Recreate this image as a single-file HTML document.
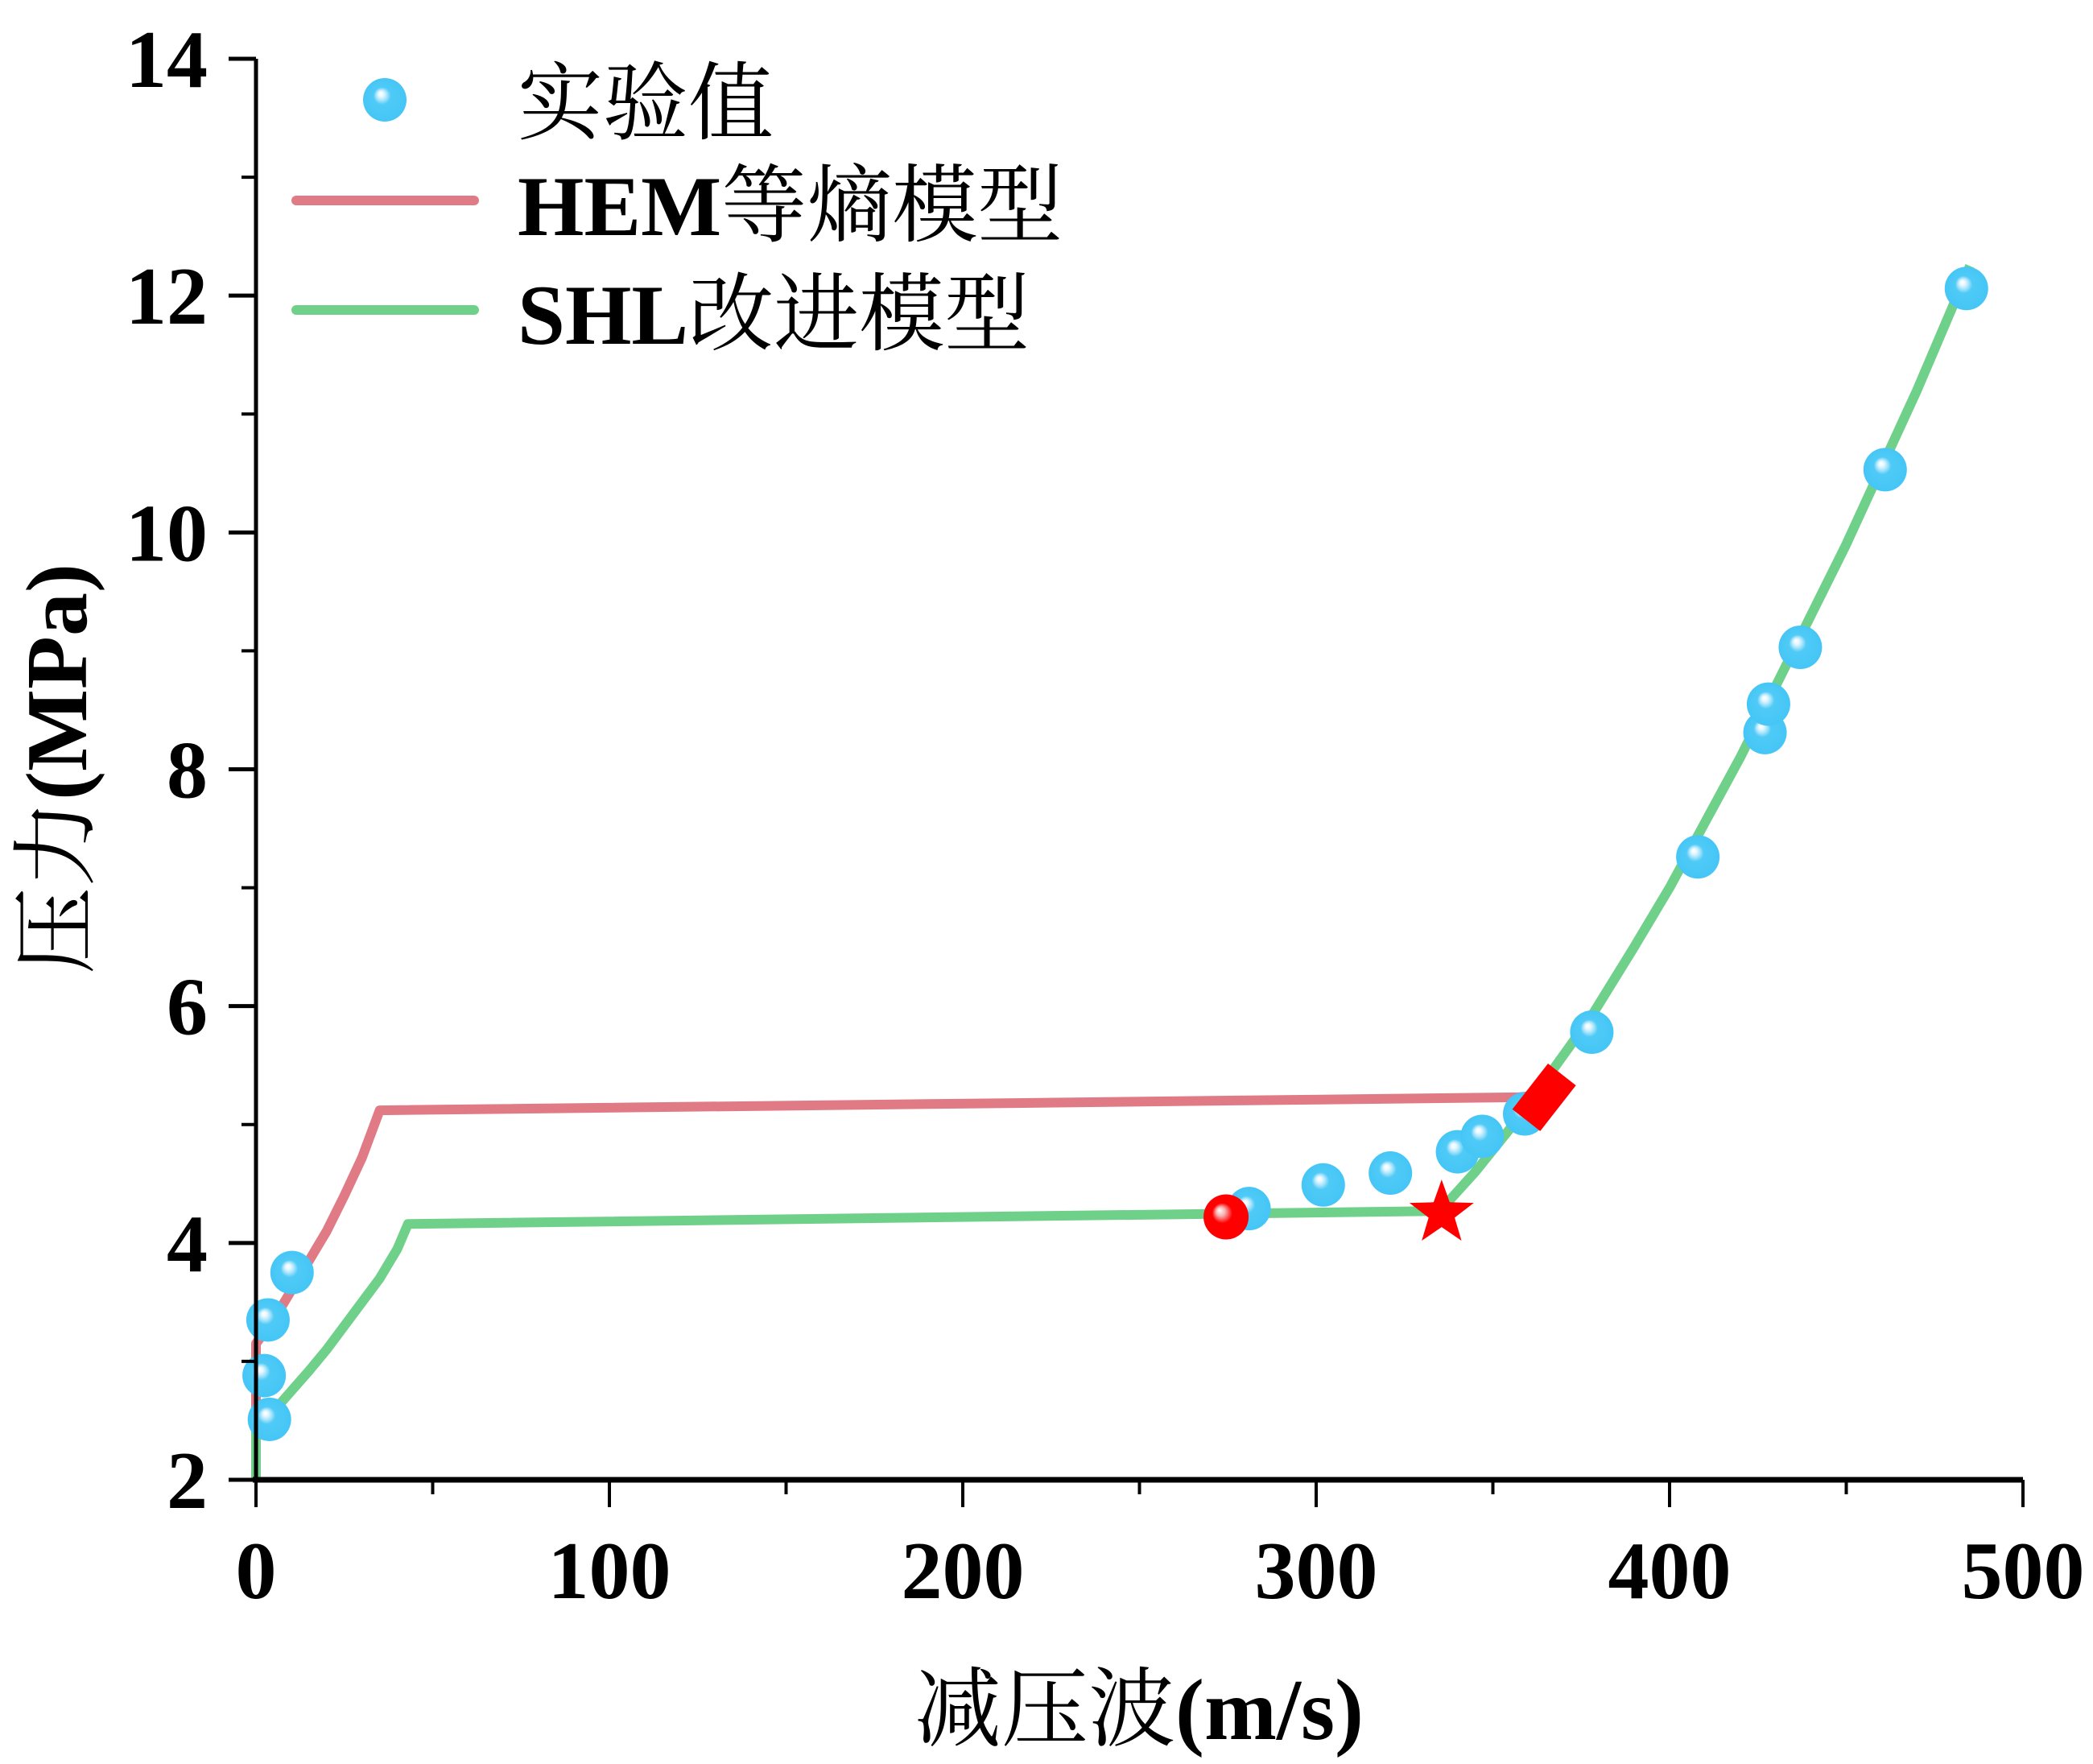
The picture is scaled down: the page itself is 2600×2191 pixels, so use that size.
<!DOCTYPE html>
<html><head><meta charset="utf-8"><style>
html,body{margin:0;padding:0;background:#fff;}
svg{display:block;}
text{font-family:"Liberation Serif","Noto Serif CJK SC","Noto Sans CJK SC",serif;}
</style></head><body>
<svg id="chart" width="2600" height="2191" viewBox="0 0 2600 2191" xmlns="http://www.w3.org/2000/svg">
<defs>
<radialGradient id="ball" cx="0.5" cy="0.5" r="0.5" fx="0.4" fy="0.35">
<stop offset="0" stop-color="#ffffff"/><stop offset="0.12" stop-color="#e8f8ff"/><stop offset="0.25" stop-color="#a8e4fb"/><stop offset="0.4" stop-color="#4fcaf7"/><stop offset="1" stop-color="#45c6f6"/>
</radialGradient>
<radialGradient id="rball" cx="0.5" cy="0.5" r="0.5" fx="0.35" fy="0.35">
<stop offset="0" stop-color="#fff"/><stop offset="0.2" stop-color="#f8b0b0"/><stop offset="0.45" stop-color="#f00"/><stop offset="1" stop-color="#f00"/>
</radialGradient>
</defs>
<g id="plot"></g>
<g id="axes"></g>
<g>
<circle cx="478" cy="124" r="27" fill="url(#ball)"/>
<text x="643" y="165" font-size="106">实验值</text>
<line x1="368" y1="249" x2="589" y2="249" stroke="#e07a85" stroke-width="12" stroke-linecap="round"/>
<text x="643" y="292" font-size="106" font-weight="bold">HEM<tspan font-weight="normal">等熵模型</tspan></text>
<line x1="368" y1="385" x2="589" y2="385" stroke="#6fd08a" stroke-width="12" stroke-linecap="round"/>
<text x="643" y="427" font-size="106" font-weight="bold">SHL<tspan font-weight="normal">改进模型</tspan></text>
</g>
<text x="1415" y="2160" font-size="108" text-anchor="middle">减压波<tspan font-weight="bold">(m/s)</tspan></text>
<text transform="translate(107,955) rotate(-90)" font-size="108" text-anchor="middle">压力<tspan font-weight="bold">(MPa)</tspan></text>
</svg>
<script>
const expX=[3.8,2.3,3.4,10.2,281,302,321,340,347,359,378,408,427,428,437,461,484];
const expY=[2.51,2.88,3.35,3.75,4.29,4.49,4.59,4.77,4.9,5.09,5.78,7.26,8.31,8.55,9.03,10.53,12.06];
const hemX=[0,0,5,10,15,20,25,30,35,357,364];
const hemY=[2.5,3.15,3.35,3.6,3.85,4.1,4.4,4.72,5.12,5.23,5.25];
const shlX=[0,0,5,10,15,20,25,30,35,40,43,335,345,355,365,378,390,400,410,420,430,440,450,460,470,480,485];
const shlY=[2.0,2.4,2.58,2.75,2.92,3.1,3.3,3.5,3.7,3.95,4.16,4.27,4.6,4.97,5.38,5.92,6.5,7.0,7.55,8.1,8.7,9.3,9.9,10.55,11.2,11.9,12.25];
const markX=[274.5,335.5,364.5];
const markY=[4.22,4.25,5.23];
const xTicks=[0,100,200,300,400,500];
const yTicks=[2,4,6,8,10,12,14];
const NS='http://www.w3.org/2000/svg';
const X0=318,X1=2513,Y0=1838,Y1=73;
const sx=v=>X0+(v-0)/500*(X1-X0);
const sy=v=>Y0-(v-2)/12*(Y0-Y1);
const plot=document.getElementById('plot'),axes=document.getElementById('axes');
function mk(tag,attrs,parent){const e=document.createElementNS(NS,tag);for(const k in attrs)e.setAttribute(k,attrs[k]);parent.appendChild(e);return e;}
function line(xs,ys,color,name){
  const p=mk('polyline',{points:xs.map((x,i)=>sx(x)+','+sy(ys[i])).join(' '),fill:'none',stroke:color,'stroke-width':12,'stroke-linejoin':'round'},plot);
  
  
}
line(hemX,hemY,'#e07a85','hem-isentropic-line');
line(shlX,shlY,'#6fd08a','shl-improved-line');
expX.forEach((x,i)=>{
  const c=mk('circle',{cx:sx(x),cy:sy(expY[i]),r:27,fill:'url(#ball)'},plot);
  
  
});
const rc=mk('circle',{cx:sx(markX[0]),cy:sy(markY[0]),r:28,fill:'url(#rball)'},plot);


(function(){const cx=sx(markX[1]),cy=sy(markY[1]),R=42,r=17;let pts=[];
for(let i=0;i<10;i++){const a=-Math.PI/2+i*Math.PI/5,rr=i%2?r:R;pts.push((cx+rr*Math.cos(a))+','+(cy+rr*Math.sin(a)));}
const s=mk('polygon',{points:pts.join(' '),fill:'#ff0000'},plot);

})();
(function(){const cx=sx(markX[2]),cy=sy(markY[2]);
const d=mk('rect',{x:cx-36,y:cy-22,width:72,height:44,fill:'#ff0000',transform:`rotate(-52 ${cx} ${cy})`},plot);

})();
const xa=mk('line',{x1:X0-4,y1:Y0,x2:X1,y2:Y0,stroke:'#000','stroke-width':7},axes);


const ya=mk('line',{x1:X0,y1:Y0+3,x2:X0,y2:Y1,stroke:'#000','stroke-width':5},axes);


for(let v=0;v<=500;v+=50){const maj=v%100===0;
  const t=mk('line',{x1:sx(v),y1:Y0,x2:sx(v),y2:Y0+(maj?34:18),stroke:'#000','stroke-width':4},axes);
  
  }
for(let v=2;v<=14;v+=1){const maj=v%2===0;
  const t=mk('line',{x1:X0,y1:sy(v),x2:X0-(maj?34:18),y2:sy(v),stroke:'#000','stroke-width':maj?5:4},axes);
  
  }
xTicks.forEach(v=>{const t=mk('text',{x:sx(v),y:1985,'font-size':102,'font-weight':'bold','text-anchor':'middle'},axes);t.textContent=v;
  
  });
yTicks.forEach(v=>{const t=mk('text',{x:258,y:sy(v)+35,'font-size':102,'font-weight':'bold','text-anchor':'end'},axes);t.textContent=v;
  
  });
</script>
</body></html>
